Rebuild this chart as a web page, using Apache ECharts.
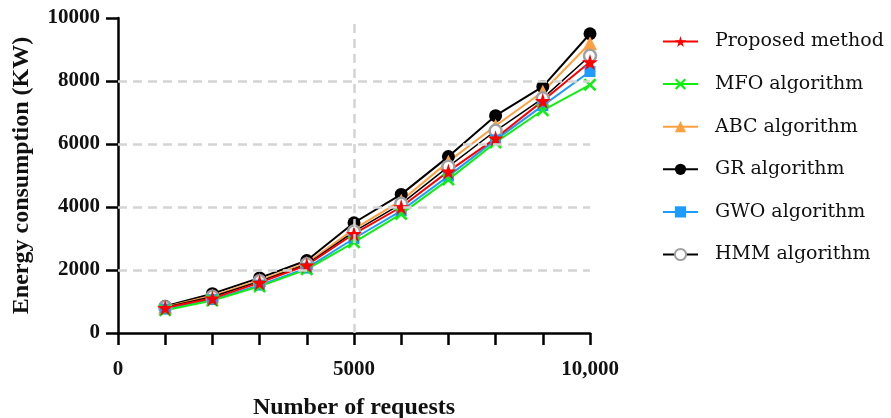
<!DOCTYPE html>
<html>
<head>
<meta charset="utf-8">
<script src="https://cdn.jsdelivr.net/npm/echarts@6/dist/echarts.min.js"></script>
<style>html,body{margin:0;padding:0;background:#fff}#c{width:891px;height:418px}</style>
</head>
<body>
<div id="c"></div>
<script>
const requests = [1000, 2000, 3000, 4000, 5000, 6000, 7000, 8000, 9000, 10000];
const proposed = [800, 1100, 1600, 2150, 3150, 4000, 5130, 6180, 7370, 8600];
const mfo      = [720, 1030, 1480, 2020, 2880, 3780, 4870, 6050, 7070, 7880];
const abc      = [830, 1180, 1680, 2220, 3300, 4200, 5440, 6580, 7660, 9200];
const gr       = [850, 1250, 1750, 2300, 3500, 4400, 5600, 6900, 7820, 9500];
const gwo      = [760, 1060, 1520, 2060, 3000, 3880, 4980, 6130, 7220, 8300];
const hmm      = [820, 1150, 1640, 2180, 3220, 4100, 5280, 6420, 7450, 8800];
const seriesNames = ['Proposed method', 'MFO algorithm', 'ABC algorithm', 'GR algorithm', 'GWO algorithm', 'HMM algorithm'];
const yGridValues = [2000, 4000, 6000, 8000];
const xGridValues = [5000];

const STAR = 'path://M50,0 L61,35 L98,35 L68,57 L79,91 L50,70 L21,91 L32,57 L2,35 L39,35 Z';
const CROSS = 'path://M0,14 L14,0 L50,36 L86,0 L100,14 L64,50 L100,86 L86,100 L50,64 L14,100 L0,86 L36,50 Z';

const pair = arr => requests.map((x, i) => [x, arr[i]]);
const serif = 'Liberation Serif';

function mk(name, data, color, symbol, size, extra) {
  return Object.assign({
    name, type: 'line', data: pair(data), symbol, symbolSize: size,
    lineStyle: { color, width: 2 }, itemStyle: { color },
    showAllSymbol: true, animation: false, z: 3
  }, extra || {});
}

const series = [
  mk(seriesNames[3], gr, '#000000', 'circle', 13, {
    markLine: {
      silent: true, symbol: 'none', animation: false,
      label: { show: false },
      lineStyle: { color: '#d4d4d4', type: [9, 6], width: 2.5 },
      data: yGridValues.map(v => ({ yAxis: v })).concat(xGridValues.map(v => ({ xAxis: v })))
    }
  }),
  mk(seriesNames[2], abc, '#ffa040', 'triangle', 14),
  mk(seriesNames[5], hmm, '#000000', 'circle', 12, {
    lineStyle: { color: '#000000', width: 1.5 },
    itemStyle: { color: '#ffffff', borderColor: '#a0a0a0', borderWidth: 2.5 }
  }),
  mk(seriesNames[4], gwo, '#1e9bff', 'rect', 11),
  mk(seriesNames[1], mfo, '#11ee11', CROSS, 13),
  mk(seriesNames[0], proposed, '#ff0000', STAR, 16)
];

const chart = echarts.init(document.getElementById('c'), null, { renderer: 'canvas' });
chart.setOption({
  backgroundColor: '#ffffff',
  animation: false,
  grid: { left: 118, right: 301, top: 18, bottom: 85, containLabel: false, outerBoundsMode: 'none' },
  legend: {
    data: seriesNames,
    orient: 'vertical',
    left: 662, top: 32, padding: 0,
    itemWidth: 35, itemHeight: 14, itemGap: 23.6,
    textStyle: { fontFamily: 'DejaVu Serif', fontSize: 19, color: '#111', padding: [0, 0, 0, 12] }
  },
  xAxis: {
    type: 'value', min: 0, max: 10000, interval: 1000,
    name: 'Number of requests', nameLocation: 'middle', nameGap: 63,
    nameTextStyle: { fontFamily: serif, fontWeight: 'bold', fontSize: 24, color: '#111' },
    axisLine: { show: true, onZero: false, lineStyle: { color: '#000', width: 2.5 } },
    axisTick: { show: true, length: 12, lineStyle: { color: '#000', width: 2.5 } },
    axisLabel: {
      margin: 26, fontFamily: serif, fontWeight: 'bold', fontSize: 21, color: '#111',
      formatter: v => v % 5000 === 0 ? (v >= 10000 ? '10,000' : String(v)) : ''
    },
    splitLine: { show: false }
  },
  yAxis: {
    type: 'value', min: 0, max: 10000, interval: 2000,
    name: 'Energy consumption (KW)', nameLocation: 'middle', nameGap: 84,
    nameTextStyle: { fontFamily: serif, fontWeight: 'bold', fontSize: 24, color: '#111' },
    axisLine: { show: true, lineStyle: { color: '#000', width: 2.5 } },
    axisTick: { show: true, length: 12, lineStyle: { color: '#000', width: 2.5 } },
    axisLabel: { margin: 18, fontFamily: serif, fontWeight: 'bold', fontSize: 21, color: '#111',
      formatter: v => String(v) },
    splitLine: { show: false }
  },
  series
});
</script>
</body>
</html>
